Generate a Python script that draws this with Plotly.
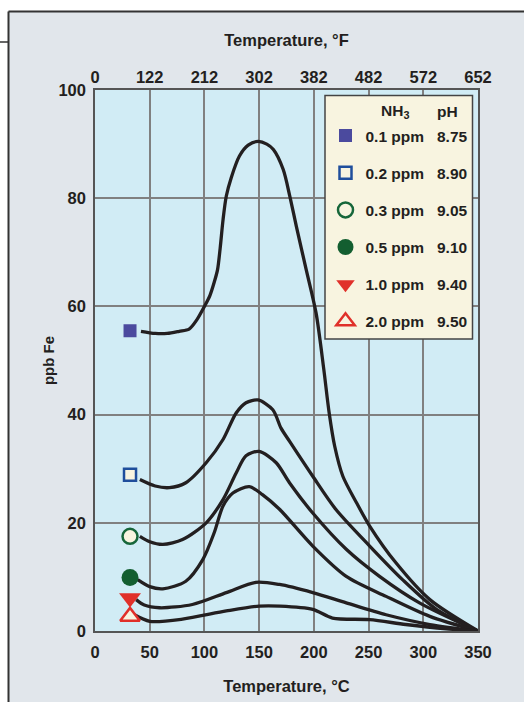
import plotly.graph_objects as go

# ---------------- data ----------------
x_ticks_c = [0, 50, 100, 150, 200, 250, 300, 350]
x_ticks_f = ["0", "122", "212", "302", "382", "482", "572", "652"]
y_ticks = [0, 20, 40, 60, 80, 100]

series_names = ["0.1 ppm", "0.2 ppm", "0.3 ppm", "0.5 ppm", "1.0 ppm", "2.0 ppm"]
series_ph = ["8.75", "8.90", "9.05", "9.10", "9.40", "9.50"]

marker_x = [32, 32, 32, 32, 32, 32]
marker_y = [55.5, 28.9, 17.5, 9.9, 6.1, 2.7]

x1 = [42, 55, 66, 77, 86, 93, 100, 105, 109, 112, 114.5, 117, 120, 124.5, 132, 140, 149, 157, 163, 172, 178, 184, 193, 202, 209, 214, 219, 226.5, 239, 251, 275, 306, 350]
y1 = [55.4, 55.0, 55.0, 55.4, 55.8, 57.5, 60, 62, 64.5, 66.8, 71, 76, 80.4, 83.8, 87.8, 89.8, 90.5, 90.0, 89, 85.3, 80.4, 74.8, 66.8, 58.8, 48.5, 40.3, 34.2, 28.6, 23.7, 19.4, 12.6, 5.8, 0]

x2 = [41, 55, 68, 83, 101.6, 117, 129, 138, 149, 162.5, 170, 178, 199, 220, 251, 281, 312, 350]
y2 = [28, 26.8, 26.5, 27.4, 31.1, 35.4, 40.3, 42.2, 42.7, 40.9, 37.5, 35.0, 28.6, 22.5, 15.7, 9.5, 4.0, 0]

x3 = [41, 50, 62, 80, 101.6, 117, 129, 138, 150, 165.6, 177.7, 199, 229.6, 260, 296.5, 350]
y3 = [17.5, 16.5, 16.0, 16.9, 20, 24.3, 29.2, 32.4, 33.2, 31.1, 27.4, 21.8, 15.1, 10.1, 5.2, 0]

x4 = [39, 50, 62, 83, 98.5, 109, 117, 126, 141, 153, 168.6, 199, 229.6, 266, 306, 350]
y4 = [9.5, 8.2, 7.8, 9.2, 13.2, 18.2, 23.1, 25.5, 26.7, 25.2, 22.5, 15.7, 10.1, 6.4, 2.7, 0]

x5 = [37.6, 45, 59, 89, 120, 147, 168.6, 199, 229.6, 266, 306, 350]
y5 = [5.8, 4.8, 4.3, 4.9, 7.1, 9.0, 8.6, 7.1, 5.2, 3.0, 1.2, 0]

x6 = [36, 50, 80, 120, 150, 169, 199, 217, 251, 284, 321, 350]
y6 = [3.0, 1.8, 2.2, 3.7, 4.6, 4.6, 4.0, 2.4, 2.1, 1.2, 0.4, 0]

curves_x = [x1, x2, x3, x4, x5, x6]
curves_y = [y1, y2, y3, y4, y5, y6]

# ---------------- styles ----------------
BEIGE = "#f8f4e0"
INK = "#231f20"
marker_styles = [
    dict(symbol="square", size=13, color="#4b4a9e", line=dict(width=0)),
    dict(symbol="square", size=12, color=BEIGE, line=dict(width=2.5, color="#1f4e9c")),
    dict(symbol="circle", size=15, color=BEIGE, line=dict(width=2.5, color="#16663a")),
    dict(symbol="circle", size=17, color="#135e30", line=dict(width=0)),
    dict(symbol="triangle-down", size=19, color="#e0302a", line=dict(width=0)),
    dict(symbol="triangle-up", size=17, color=BEIGE, line=dict(width=2.5, color="#e0302a")),
]

# page body margin is removed (post_script), so figure pixels == page pixels
W, H = 524, 702
L, R, T, B = 95, 46, 90, 71
PW, PH = W - L - R, H - T - B


def px_x(px):  # page pixel -> paper
    return (px - L) / PW


def px_y(py):
    return (H - B - py) / PH


fig = go.Figure()

for i in range(6):
    fig.add_trace(go.Scatter(
        x=curves_x[i], y=curves_y[i], mode="lines",
        line=dict(color=INK, width=3.3, shape="spline", smoothing=0.8),
        showlegend=False, hoverinfo="skip",
    ))

nb = "\u00a0"
for i in range(6):
    fig.add_trace(go.Scatter(
        x=[marker_x[i]], y=[marker_y[i]], mode="markers",
        marker=marker_styles[i],
        name=series_names[i] + nb * 3 + series_ph[i],
        legendgroup="g%d" % i,
    ))

# invisible trace to activate the top (°F) axis
fig.add_trace(go.Scatter(x=[0, 350], y=[None, None], xaxis="x2", mode="lines",
                         showlegend=False, hoverinfo="skip"))

FAM = "Liberation Sans, Arial"
axis_font = dict(size=16.5, color=INK, family=FAM, weight="bold")
leg_font = dict(size=15.5, color=INK, family=FAM, weight="bold")

fig.update_layout(
    width=W, height=H,
    margin=dict(l=L, r=R, t=T, b=B, autoexpand=False),
    paper_bgcolor="#e1e6eb",
    plot_bgcolor="#d1ecf5",
    font=dict(family=FAM, color=INK, size=16, weight="bold"),
    xaxis=dict(
        range=[0, 350], tickvals=x_ticks_c, showgrid=True, gridcolor="#808080", gridwidth=1.5,
        showline=True, linecolor="#555555", linewidth=1.5, mirror=True, zeroline=False,
        ticks="", tickfont=axis_font, ticklabelstandoff=5, automargin=False,
        title=dict(text="Temperature, °C", font=axis_font, standoff=21),
    ),
    xaxis2=dict(
        range=[0, 350], tickvals=x_ticks_c, ticktext=x_ticks_f, overlaying="x", side="top",
        showgrid=False, zeroline=False, ticks="", tickfont=axis_font, ticklabelstandoff=3,
        automargin=False,
        title=dict(text="Temperature, °F", font=axis_font, standoff=16),
    ),
    yaxis=dict(
        range=[0, 100], tickvals=y_ticks, showgrid=True, gridcolor="#808080", gridwidth=1.5,
        showline=True, linecolor="#555555", linewidth=1.5, mirror=True, zeroline=False,
        ticks="", tickfont=axis_font, ticklabelstandoff=4, automargin=False,
        title=dict(text="ppb Fe", font=dict(size=15, color=INK, weight="bold"), standoff=0),
    ),
    legend=dict(
        x=px_x(325.5), y=px_y(119), xanchor="left", yanchor="top",
        bgcolor="rgba(0,0,0,0)", borderwidth=0, tracegroupgap=14,
        font=leg_font, itemsizing="trace",
    ),
    showlegend=True,
)

shapes = [
    # white page outside the frame (top strip and left strip)
    dict(type="rect", xref="paper", yref="paper", x0=px_x(-5), x1=px_x(540), y0=px_y(11), y1=px_y(-5),
         fillcolor="white", line=dict(width=0), layer="below"),
    dict(type="rect", xref="paper", yref="paper", x0=px_x(-5), x1=px_x(8), y0=px_y(720), y1=px_y(-5),
         fillcolor="white", line=dict(width=0), layer="below"),
    # frame lines
    dict(type="line", xref="paper", yref="paper", x0=px_x(8.5), x1=px_x(540), y0=px_y(11.5), y1=px_y(11.5),
         line=dict(color="#333333", width=2)),
    dict(type="line", xref="paper", yref="paper", x0=px_x(8.5), x1=px_x(8.5), y0=px_y(11.5), y1=px_y(720),
         line=dict(color="#333333", width=2)),
    dict(type="line", xref="paper", yref="paper", x0=px_x(-5), x1=px_x(8.5), y0=px_y(42), y1=px_y(42),
         line=dict(color="#333333", width=1.5)),
    # legend box
    dict(type="rect", xref="paper", yref="paper", x0=px_x(325), x1=px_x(472.5), y0=px_y(339), y1=px_y(95.5),
         fillcolor=BEIGE, line=dict(color="#444444", width=1.5), layer="above"),
]
fig.update_layout(shapes=shapes)

fig.add_annotation(xref="paper", yref="paper", x=px_x(395), y=px_y(112), text="NH<sub>3</sub>",
                   showarrow=False, font=leg_font, xanchor="center", yanchor="middle")
fig.add_annotation(xref="paper", yref="paper", x=px_x(447), y=px_y(112), text="pH",
                   showarrow=False, font=leg_font, xanchor="center", yanchor="middle")

fig.write_html(
    "out.html",
    config={"displayModeBar": False},
    post_script="document.body.style.margin='0';document.body.style.overflow='hidden';",
)
